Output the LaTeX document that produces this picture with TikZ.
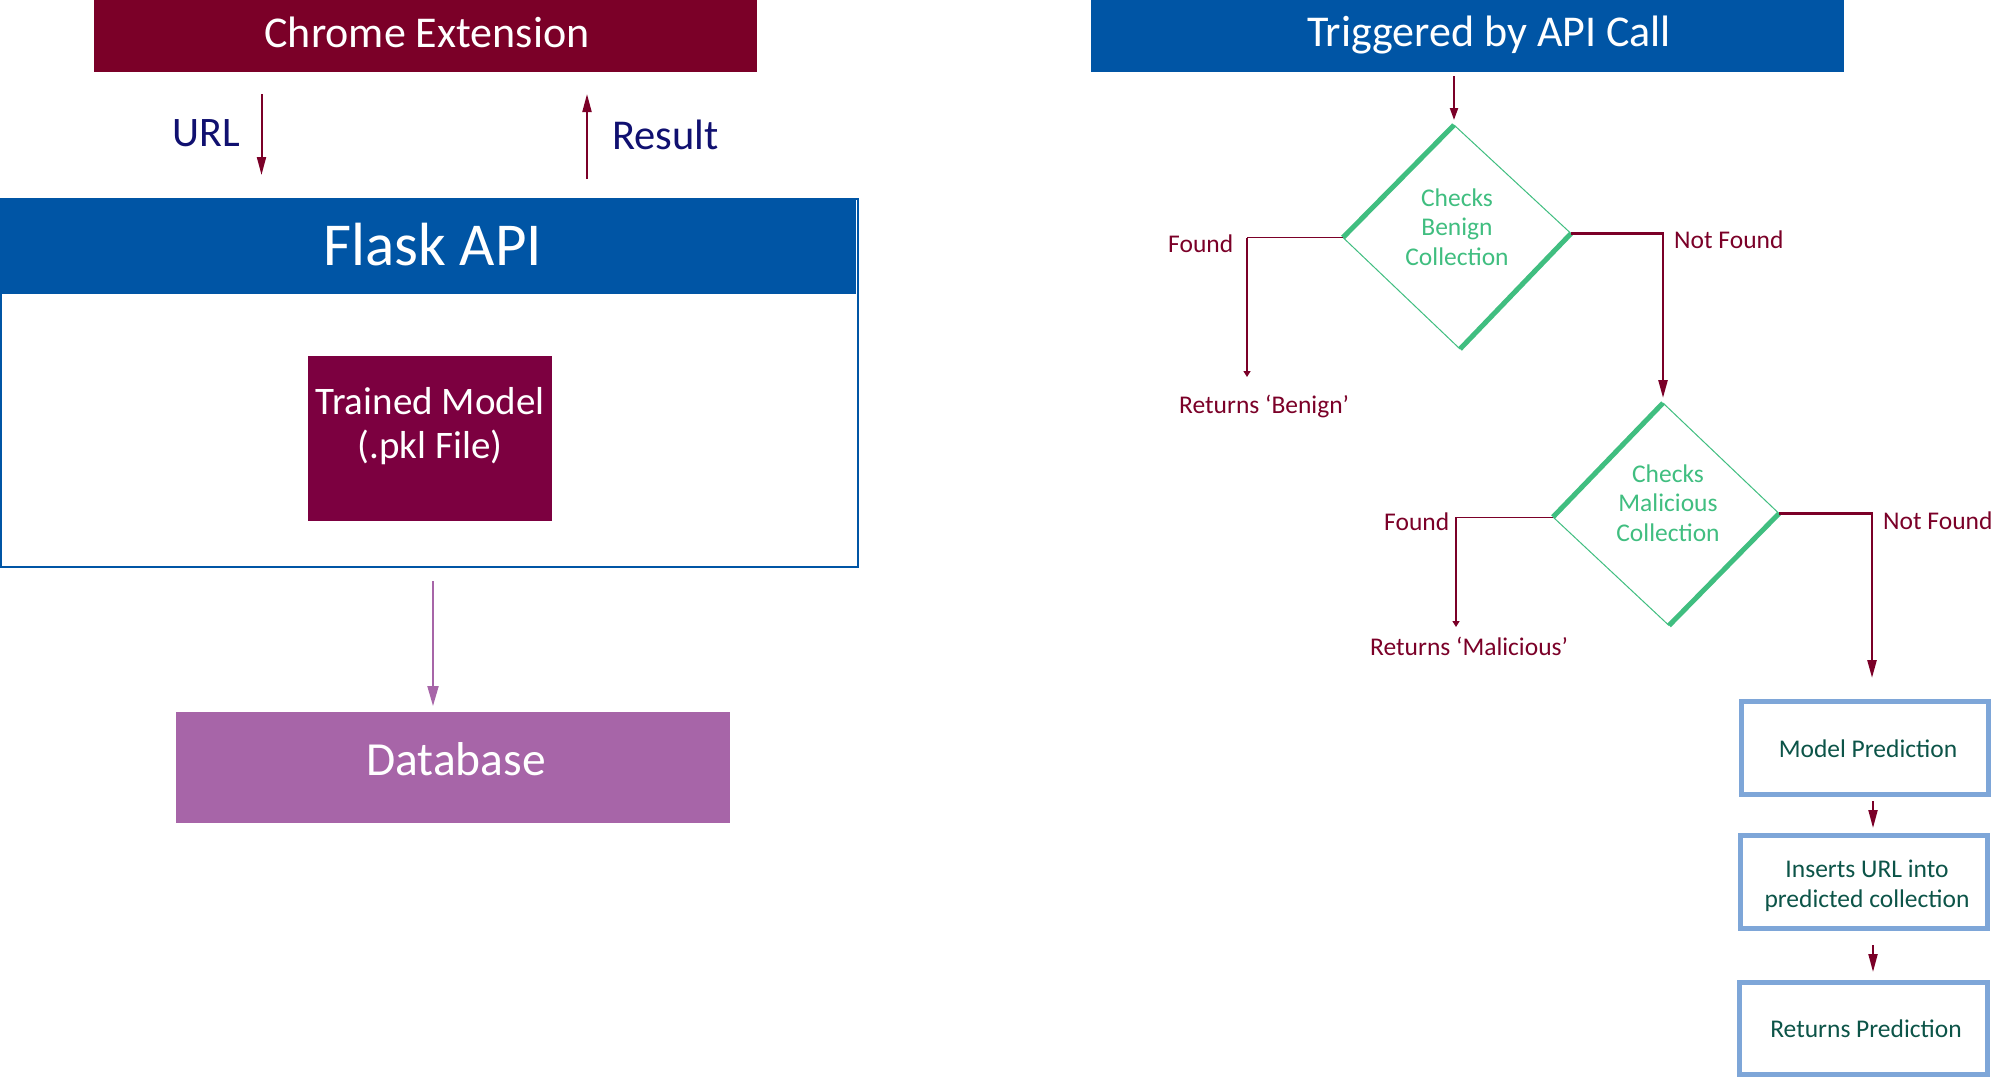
\documentclass[tikz,border=0pt]{standalone}
\usepackage{fontspec}
\setmainfont{Carlito}
\usetikzlibrary{arrows.meta}
\definecolor{cMaroon}{RGB}{123,0,40}
\definecolor{cBlue}{RGB}{0,85,165}
\definecolor{cNavy}{RGB}{16,16,112}
\definecolor{cPlum}{RGB}{124,0,64}
\definecolor{cPurple}{RGB}{167,101,168}
\definecolor{cGreen}{RGB}{64,190,128}
\definecolor{cTeal}{RGB}{12,84,72}
\definecolor{cLight}{RGB}{126,166,216}
\begin{document}
\begin{tikzpicture}[x=1pt,y=-1pt,
  box/.style={inner sep=0pt, outer sep=0pt, anchor=north west},
  conn/.style={draw=cMaroon, line width=2pt},
  bigtip/.style={-{Triangle[length=18pt,width=9pt]}},
  midtip/.style={-{Triangle[length=12pt,width=8pt]}},
  smalltip/.style={-{Triangle[length=6pt,width=7pt]}},
  big/.style={font=\fontsize{44}{50}\selectfont, text=white, inner sep=0pt},
  small/.style={font=\fontsize{25.5}{29.5}\selectfont, inner sep=0pt},
  lbl/.style={small, text=cMaroon, anchor=base west},
  stepbox/.style={draw=cLight, line width=5pt, inner sep=0pt, outer sep=0pt, anchor=north west},
  thinedge/.style={draw=cGreen, line width=1pt},
  thickedge/.style={draw=cGreen, line width=5pt},
]
\useasboundingbox (0,0) rectangle (1993,1080);
\fill[white] (0,0) rectangle (1993,1080);

% ---------- left part ----------
\node[box, fill=cMaroon, minimum width=663pt, minimum height=71.6pt] (chrome) at (94,0) {};
\node[big, anchor=base] (chromet) at (427,47) {Chrome Extension};

\node[box, draw=cBlue, line width=1.2pt, minimum width=857pt, minimum height=368pt] (flask) at (1,199) {};
\node[box, fill=cBlue, minimum width=856pt, minimum height=95pt] (flaskhead) at (0,199) {};
\node[big, font=\fontsize{61}{68}\selectfont, anchor=base] (flaskt) at (432.5,265) {Flask API};

\node[box, fill=cPlum, minimum width=244pt, minimum height=165pt] (model) at (308,356) {};
\node[font=\fontsize{39}{44}\selectfont, text=white, align=center, inner sep=0pt] (modelt) at (430,427.2) {Trained Model\strut\\(.pkl File)\strut};

\node[box, fill=cPurple, minimum width=554pt, minimum height=111pt] (db) at (176,712) {};
\node[font=\fontsize{47.5}{54}\selectfont, text=white, anchor=base, inner sep=0pt] (dbt) at (456,775) {Database};

\coordinate (urlA) at (261.5,94);
\coordinate (urlB) at (261.5,175);
\draw[conn, bigtip] (urlA) -- (urlB);
\node[font=\fontsize{42}{48}\selectfont, text=cNavy, anchor=base, inner sep=0pt] (urlt) at (206.5,146) {URL};

\coordinate (resA) at (587,179);
\coordinate (resB) at (587,94);
\draw[conn, bigtip] (resA) -- (resB);
\node[font=\fontsize{42.5}{48}\selectfont, text=cNavy, anchor=base west, inner sep=0pt] (rest) at (612,149) {Result};

\coordinate (dbA) at (433,581);
\coordinate (dbB) at (433,706);
\draw[draw=cPurple, line width=2pt, -{Triangle[length=20pt,width=11pt]}] (dbA) -- (dbB);

% ---------- right part ----------
\node[box, fill=cBlue, minimum width=753pt, minimum height=71.6pt] (trig) at (1091,0) {};
\node[big, anchor=base] (trigt) at (1489,46) {Triggered by API Call};

\coordinate (trA) at (1454,76);
\coordinate (d1t) at (1454,125);
\coordinate (d1l) at (1343,237.5);
\coordinate (d1r) at (1571,233.5);
\coordinate (d1b) at (1460,349);
\draw[conn, midtip, shorten >=5pt] (trA) -- (d1t);

\draw[thinedge] (d1t) -- (d1r);
\draw[thinedge] (d1l) -- (d1b);
\draw[thickedge] (d1l) -- (d1t);
\draw[thickedge] (d1r) -- (d1b);
\node[small, text=cGreen, align=center] (d1) at (1457,229.6) {Checks\strut\\Benign\\Collection\strut};

% Found 1
\coordinate (f1end) at (1247,377);
\draw[draw=cMaroon, line width=1pt] (d1l) -- (d1l -| f1end);
\draw[conn, smalltip] (d1l -| f1end) -- (f1end);
\node[lbl] (f1t) at (1168,252.6) {Found};
\node[lbl] (rb) at (1179,413) {Returns ‘Benign’};

% Not Found 1
\coordinate (d2t) at (1663,403);
\coordinate (d2l) at (1553,517);
\coordinate (d2r) at (1779,513.5);
\coordinate (d2b) at (1669,625.5);
\draw[conn, line width=2.5pt, bigtip, shorten >=5pt] (d1r) -| (d2t);
\node[lbl] (nf1t) at (1674,248) {Not Found};

\draw[thinedge] (d2t) -- (d2r);
\draw[thinedge] (d2l) -- (d2b);
\draw[thickedge] (d2l) -- (d2t);
\draw[thickedge] (d2r) -- (d2b);
\node[small, text=cGreen, align=center] (d2) at (1668,505.9) {Checks\strut\\Malicious\\Collection\strut};

% Found 2
\coordinate (f2end) at (1456,627);
\draw[draw=cMaroon, line width=1pt] (d2l) -- (d2l -| f2end);
\draw[conn, smalltip] (d2l -| f2end) -- (f2end);
\node[lbl] (f2t) at (1384,530) {Found};
\node[lbl] (rm) at (1370,655) {Returns ‘Malicious’};

% Not Found 2
\node[stepbox, minimum width=247pt, minimum height=93pt] (mp) at (1741.5,701.5) {};
\node[small, text=cTeal, anchor=base] (mpt) at (1868,757) {Model Prediction};
\coordinate (nf2end) at (1872,678);
\draw[conn, line width=2.5pt, bigtip] (d2r) -| (nf2end);
\node[lbl] (nf2t) at (1883,529) {Not Found};

\node[stepbox, minimum width=247pt, minimum height=93pt] (ins) at (1740.5,835.5) {};
\node[small, text=cTeal, align=center] (inst) at (1867,886.7) {Inserts URL into\strut\\predicted collection\strut};

\node[stepbox, minimum width=248pt, minimum height=92pt] (rp) at (1739.5,982.5) {};
\node[small, text=cTeal, anchor=base] (rpt) at (1866,1037.5) {Returns Prediction};

\coordinate (a1s) at (1873,801);
\coordinate (a1e) at (1873,828);
\draw[conn, bigtip] (a1s) -- (a1e);
\coordinate (a2s) at (1873,945);
\coordinate (a2e) at (1873,972);
\draw[conn, bigtip] (a2s) -- (a2e);
\end{tikzpicture}
\end{document}
